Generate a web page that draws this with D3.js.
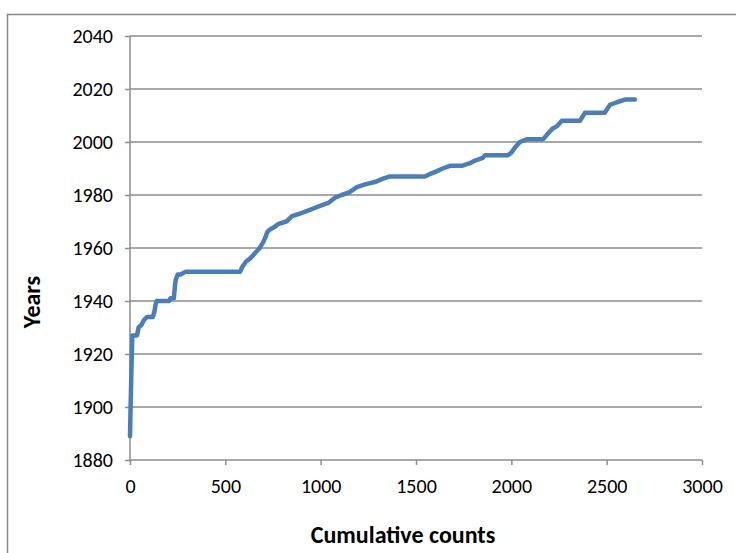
<!DOCTYPE html>
<html><head><meta charset="utf-8">
<script src="https://cdn.jsdelivr.net/npm/d3@7"></script>
<style>body{margin:0;background:#fff}svg{display:block}</style>
</head><body>
<svg id="c" width="736" height="553"></svg>
<script>
const counts = [0,3,8,12,20,37,45,60,75,90,120,128,135,140,205,212,230,236,240,250,265,290,577,590,610,629,655,680,697,710,720,734,760,776,820,850,891,930,965,1000,1040,1075,1110,1150,1190,1232,1290,1320,1363,1400,1547,1575,1610,1640,1678,1740,1783,1810,1850,1862,1982,2000,2020,2045,2080,2166,2190,2215,2240,2265,2360,2386,2490,2517,2554,2596,2648];
const years  = [1889,1900,1915,1927,1927,1927,1930,1931,1933,1934,1934,1936,1939,1940,1940,1941,1941,1946,1948,1950,1950,1951,1951,1953,1955,1956,1958,1960,1962,1964,1966,1967,1968,1969,1970,1972,1973,1974,1975,1976,1977,1979,1980,1981,1983,1984,1985,1986,1987,1987,1987,1988,1989,1990,1991,1991,1992,1993,1994,1995,1995,1996,1998,2000,2001,2001,2003,2005,2006,2008,2008,2011,2011,2014,2015,2016,2016];
const xTicks = [0,500,1000,1500,2000,2500,3000];
const yTicks = [1880,1900,1920,1940,1960,1980,2000,2020,2040];

const svg = d3.select("#c");
const font = "Calibri, Carlito, 'Liberation Sans Narrow', 'Open Sans', sans-serif";
const x = d3.scaleLinear().domain([0,3000]).range([130,702]);
const y = d3.scaleLinear().domain([1880,2040]).range([460,36]);

svg.append("rect").attr("x",7.5).attr("y",14.5).attr("width",760).attr("height",560)
  .attr("fill","none").attr("stroke","#888").attr("stroke-width",1.5);

svg.append("g").selectAll("line").data(yTicks.slice(1)).join("line")
  .attr("x1",130).attr("x2",702).attr("y1",d=>y(d)).attr("y2",d=>y(d))
  .attr("stroke","#8c8c8c").attr("stroke-width",1.5);

const ya = svg.append("g").attr("transform","translate(130,0)")
  .call(d3.axisLeft(y).tickValues(yTicks).tickSize(5).tickPadding(12).tickFormat(d3.format("d")));
ya.select(".domain").attr("stroke","#8c8c8c").attr("stroke-width",1.5).attr("d","M0,36V460");
ya.selectAll(".tick line").attr("stroke","#8c8c8c").attr("stroke-width",1.5);
ya.selectAll("text").attr("font-family",font).attr("font-size",20).attr("fill","#000");

const xa = svg.append("g").attr("transform","translate(0,460)")
  .call(d3.axisBottom(x).tickValues(xTicks).tickSize(5).tickPadding(14).tickFormat(d3.format("d")));
xa.select(".domain").attr("stroke","#8c8c8c").attr("stroke-width",1.5).attr("d","M130,0H702");
xa.selectAll(".tick line").attr("stroke","#8c8c8c").attr("stroke-width",1.5);
xa.selectAll("text").attr("font-family",font).attr("font-size",20).attr("fill","#000");

const data = counts.map((c,i)=>({c, yr: years[i]}));
svg.append("path").datum(data)
  .attr("d", d3.line().x(d=>x(d.c)).y(d=>y(d.yr)))
  .attr("fill","none").attr("stroke","#4a7ebb").attr("stroke-width",4.5)
  .attr("stroke-linejoin","round").attr("stroke-linecap","round");

svg.append("text").attr("x",403).attr("y",543).attr("text-anchor","middle")
  .attr("font-family",font).attr("font-weight","bold").attr("font-size",24).text("Cumulative counts");
svg.append("text").attr("transform","translate(40,302) rotate(-90)").attr("text-anchor","middle")
  .attr("font-family",font).attr("font-weight","bold").attr("font-size",24).text("Years");
</script>
</body></html>
